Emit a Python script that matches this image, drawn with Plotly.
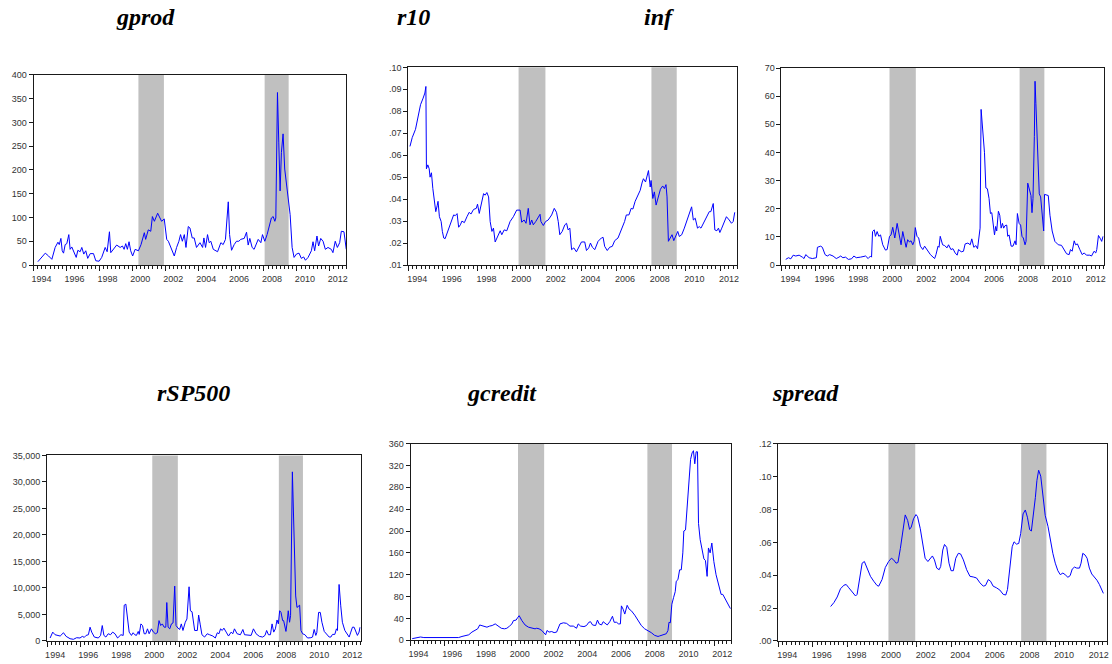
import plotly.graph_objects as go

# ---------------- data (fractional years) ----------------
gprod_t = [1994.26,1994.71,1994.91,1995.11,1995.31,1995.48,1995.56,1995.66,1995.74,1995.82,1995.92,
           1996.02,1996.14,1996.22,1996.32,1996.49,1996.59,1996.69,1996.83,1996.93,1997.05,1997.17,
           1997.29,1997.44,1997.64,1997.78,1997.98,1998.14,1998.35,1998.47,1998.61,1998.69,1998.85,
           1999.05,1999.26,1999.40,1999.50,1999.60,1999.70,1999.80,1999.90,2000.02,2000.17,2000.37,
           2000.53,2000.73,2000.81,2000.97,2001.12,2001.22,2001.34,2001.54,2001.68,2001.78,2001.94,
           2002.09,2002.19,2002.33,2002.55,2002.69,2002.83,2002.93,2003.04,2003.16,2003.26,2003.40,
           2003.50,2003.64,2003.76,2003.90,2004.11,2004.27,2004.35,2004.45,2004.57,2004.67,2004.77,
           2004.92,2005.18,2005.38,2005.52,2005.66,2005.83,2005.91,2006.03,2006.19,2006.33,2006.47,
           2006.59,2006.80,2006.94,2007.04,2007.14,2007.28,2007.40,2007.65,2007.81,2007.91,2008.05,
           2008.19,2008.31,2008.45,2008.56,2008.66,2008.72,2008.82,2008.90,2008.98,2009.06,2009.16,
           2009.26,2009.36,2009.50,2009.59,2009.71,2009.83,2009.97,2010.13,2010.27,2010.41,2010.52,
           2010.68,2010.88,2010.98,2011.08,2011.22,2011.32,2011.45,2011.59,2011.73,2011.89,2012.09,
           2012.19,2012.33,2012.46,2012.60,2012.70,2012.86,2013.00]
gprod_v = [7,25,19,12,37,48,43,56,30,25,43,45,64,33,38,26,16,31,28,37,23,30,14,24,24,9,8,16,37,28,70,
           26,33,42,37,40,33,45,33,49,30,19,33,30,43,68,54,74,71,102,92,109,99,92,97,54,50,37,19,37,
           50,64,50,64,37,81,78,57,57,37,47,37,57,37,64,47,50,33,28,47,43,54,133,64,31,43,50,50,54,56,
           69,42,56,37,33,54,47,64,50,64,78,99,102,92,99,363,257,156,237,276,202,174,140,106,37,16,23,
           25,14,17,10,16,30,49,30,61,40,56,50,33,37,33,26,50,37,47,71,70,33]

r10_t = [1994.10,1994.23,1994.42,1994.56,1994.71,1994.86,1994.96,1995.02,1995.05,1995.13,1995.21,
         1995.26,1995.34,1995.42,1995.51,1995.59,1995.67,1995.72,1995.80,1995.90,1995.97,1996.05,
         1996.13,1996.28,1996.47,1996.62,1996.72,1996.82,1996.91,1997.01,1997.10,1997.24,1997.39,
         1997.52,1997.62,1997.77,1997.93,1998.00,1998.10,1998.21,1998.35,1998.44,1998.54,1998.64,
         1998.73,1998.83,1998.92,1999.02,1999.17,1999.31,1999.40,1999.54,1999.69,1999.88,2000.07,
         2000.26,2000.46,2000.55,2000.69,2000.80,2000.93,2001.03,2001.13,2001.22,2001.36,2001.47,
         2001.61,2001.66,2001.80,2001.93,2002.08,2002.28,2002.43,2002.56,2002.66,2002.75,2002.89,
         2003.04,2003.14,2003.23,2003.33,2003.43,2003.56,2003.71,2003.85,2004.00,2004.19,2004.29,
         2004.42,2004.52,2004.63,2004.77,2004.96,2005.15,2005.25,2005.34,2005.49,2005.63,2005.78,
         2005.92,2006.11,2006.30,2006.49,2006.59,2006.74,2006.87,2006.97,2007.10,2007.26,2007.39,
         2007.51,2007.58,2007.70,2007.77,2007.87,2007.97,2008.02,2008.12,2008.21,2008.31,2008.44,
         2008.56,2008.69,2008.79,2008.88,2008.94,2009.02,2009.13,2009.23,2009.33,2009.46,2009.56,
         2009.65,2009.79,2009.94,2010.13,2010.26,2010.36,2010.46,2010.57,2010.70,2010.80,2010.90,
         2011.09,2011.22,2011.38,2011.47,2011.53,2011.61,2011.70,2011.82,2011.91,2011.99,2012.10,
         2012.24,2012.37,2012.53,2012.66,2012.76,2012.85]
r10_v = [0.0640,0.0680,0.0718,0.0778,0.0830,0.0860,0.0883,0.0913,0.0538,0.0556,0.0538,0.0500,0.0520,
         0.0448,0.0388,0.0343,0.0370,0.0390,0.0320,0.0298,0.0253,0.0223,0.0220,0.0253,0.0290,0.0328,
         0.0325,0.0334,0.0272,0.0283,0.0300,0.0293,0.0320,0.0340,0.0332,0.0353,0.0358,0.0377,0.0335,
         0.0380,0.0425,0.0418,0.0430,0.0410,0.0298,0.0253,0.0268,0.0205,0.0230,0.0256,0.0238,0.0260,
         0.0256,0.0298,0.0320,0.0350,0.0350,0.0295,0.0305,0.0290,0.0358,0.0283,0.0305,0.0283,0.0298,
         0.0313,0.0331,0.0298,0.0280,0.0298,0.0305,0.0328,0.0358,0.0340,0.0298,0.0238,0.0253,0.0283,
         0.0290,0.0260,0.0268,0.0170,0.0178,0.0160,0.0185,0.0205,0.0205,0.0166,0.0178,0.0200,0.0181,
         0.0170,0.0208,0.0223,0.0226,0.0185,0.0166,0.0181,0.0185,0.0211,0.0223,0.0260,0.0298,0.0328,
         0.0328,0.0358,0.0355,0.0390,0.0418,0.0440,0.0478,0.0493,0.0478,0.0505,0.0530,0.0455,0.0485,
         0.0403,0.0433,0.0373,0.0410,0.0445,0.0460,0.0448,0.0466,0.0410,0.0208,0.0223,0.0238,0.0211,
         0.0238,0.0253,0.0230,0.0238,0.0268,0.0313,0.0343,0.0365,0.0305,0.0313,0.0268,0.0275,0.0268,
         0.0298,0.0320,0.0343,0.0343,0.0360,0.0380,0.0260,0.0256,0.0268,0.0248,0.0268,0.0298,0.0320,
         0.0305,0.0290,0.0298,0.0340]

inf_t = [1994.25,1994.41,1994.55,1994.69,1994.84,1995.04,1995.23,1995.33,1995.43,1995.63,1995.82,
         1996.06,1996.12,1996.31,1996.41,1996.57,1996.70,1996.84,1997.04,1997.23,1997.39,1997.49,
         1997.62,1997.78,1997.94,1998.13,1998.27,1998.41,1998.66,1998.96,1999.11,1999.25,1999.31,
         1999.37,1999.47,1999.54,1999.64,1999.74,1999.84,1999.97,2000.13,2000.23,2000.37,2000.46,
         2000.56,2000.68,2000.82,2000.95,2001.05,2001.15,2001.25,2001.35,2001.44,2001.54,2001.64,
         2001.74,2001.82,2001.89,2001.99,2002.09,2002.19,2002.33,2002.44,2002.58,2002.78,2003.03,
         2003.11,2003.23,2003.29,2003.36,2003.50,2003.62,2003.76,2003.85,2003.99,2004.11,2004.24,
         2004.36,2004.44,2004.60,2004.73,2004.83,2004.99,2005.13,2005.22,2005.34,2005.46,2005.56,
         2005.66,2005.71,2005.77,2005.87,2005.97,2006.05,2006.14,2006.24,2006.32,2006.40,2006.50,
         2006.56,2006.63,2006.69,2006.79,2006.87,2006.95,2007.03,2007.10,2007.18,2007.28,2007.34,
         2007.42,2007.54,2007.65,2007.77,2007.83,2007.91,2008.01,2008.10,2008.18,2008.26,2008.36,
         2008.42,2008.52,2008.61,2008.71,2008.77,2008.83,2008.91,2008.95,2009.00,2009.10,2009.20,
         2009.28,2009.38,2009.46,2009.51,2009.63,2009.73,2009.83,2009.96,2010.12,2010.32,2010.51,
         2010.67,2010.81,2010.96,2011.04,2011.14,2011.26,2011.34,2011.45,2011.59,2011.73,2011.85,
         2011.98,2012.18,2012.28,2012.43,2012.53,2012.59,2012.69,2012.81,2012.88,2012.96]
inf_v = [2.0,2.6,2.2,3.5,3.2,3.5,2.8,2.3,3.7,2.6,2.3,2.6,6.3,6.7,6.3,3.7,3.2,3.7,3.2,2.3,2.8,3.2,2.6,
         2.8,2.0,2.2,3.2,2.6,2.8,3.2,2.3,3.2,2.8,11.9,12.5,10.2,11.9,10.2,10.7,7.2,5.3,5.5,10.2,10.7,
         13.4,9.6,14.8,10.7,7.2,11.9,8.4,6.3,9.0,8.2,8.6,7.2,8.4,13.3,10.2,9.6,6.7,5.5,6.7,5.5,3.7,
         2.3,3.7,6.7,6.3,10.2,7.2,6.9,6.1,7.2,5.5,5.8,4.3,3.5,5.5,4.7,4.9,7.5,7.8,7.2,9.3,6.3,6.9,5.8,
         11.9,13.1,55.3,46.9,39.9,27.4,27.1,23.6,18.3,18.6,13.1,10.7,13.7,12.1,19.1,17.7,13.1,14.8,
         13.1,14.0,14.2,10.2,10.7,6.7,6.7,8.6,7.2,18.3,14.8,14.2,10.2,9.6,7.2,8.4,29.1,27.1,24.7,18.6,
         23.6,45.7,65.3,57.4,43.4,25.3,24.2,16.6,12.1,25.1,25.0,24.7,17.7,12.1,8.4,7.2,7.0,5.5,4.0,
         3.7,5.5,4.9,8.6,7.2,7.5,5.5,3.7,4.3,3.5,3.5,3.2,4.9,4.3,5.5,10.5,9.3,8.4,10.2]

rsp_t = [1994.18,1994.34,1994.48,1994.64,1994.79,1994.99,1995.15,1995.39,1995.59,1995.79,1995.99,
         1996.13,1996.25,1996.36,1996.50,1996.60,1996.70,1996.86,1997.10,1997.24,1997.34,1997.44,
         1997.56,1997.70,1997.84,1997.97,1998.11,1998.27,1998.47,1998.61,1998.67,1998.77,1998.87,
         1998.97,1999.11,1999.21,1999.31,1999.41,1999.52,1999.58,1999.68,1999.78,1999.88,1999.98,
         2000.08,2000.18,2000.32,2000.44,2000.56,2000.68,2000.78,2000.88,2000.98,2001.09,2001.19,
         2001.25,2001.33,2001.43,2001.53,2001.63,2001.73,2001.81,2001.93,2002.03,2002.13,2002.23,
         2002.37,2002.47,2002.60,2002.68,2002.78,2002.94,2003.10,2003.18,2003.28,2003.38,2003.54,
         2003.70,2003.84,2004.04,2004.19,2004.31,2004.41,2004.51,2004.61,2004.71,2004.85,2004.99,
         2005.15,2005.25,2005.35,2005.51,2005.71,2005.86,2005.96,2006.16,2006.36,2006.50,2006.66,
         2006.86,2007.06,2007.20,2007.30,2007.41,2007.53,2007.63,2007.73,2007.83,2007.93,2008.01,
         2008.09,2008.17,2008.27,2008.33,2008.41,2008.47,2008.53,2008.61,2008.69,2008.75,2008.86,
         2008.96,2009.06,2009.14,2009.22,2009.30,2009.38,2009.48,2009.62,2009.78,2009.98,2010.08,
         2010.18,2010.28,2010.34,2010.45,2010.55,2010.65,2010.79,2010.95,2011.09,2011.19,2011.29,
         2011.43,2011.53,2011.59,2011.69,2011.79,2011.89,2012.04,2012.20,2012.30,2012.40,2012.50,
         2012.60,2012.70,2012.80,2012.90,2012.96]
rsp_v = [560,1670,1180,1050,930,1550,870,430,310,620,560,870,680,1050,1180,2600,1670,740,560,1050,
         2910,1050,740,1360,1180,1670,1360,560,1180,1050,6750,6940,3530,1670,1050,1550,1180,1050,1800,
         1240,3220,2910,1360,1360,2290,1360,2290,1670,1360,1550,3840,2910,3220,2600,2600,7250,2600,
         2290,3220,3410,10350,2910,2420,2170,3220,1980,3530,4150,10220,5700,5510,1980,1980,4890,3040,
         1180,740,1360,1180,930,560,1550,1360,2290,1980,2420,1670,930,1670,1360,2290,1360,1180,2170,
         1180,1050,1050,2290,1360,870,740,1050,1980,1180,1180,3220,1670,2290,3960,3220,5700,5390,3840,
         3840,2290,1800,3220,5700,3530,4770,31900,20260,8490,6320,6630,6750,1980,1360,1180,560,620,
         740,2170,1050,1550,5390,5390,3530,1800,1180,740,740,1240,1240,2290,1980,10660,6630,3530,1980,
         1050,740,1670,2600,2600,1670,1050,1670,2600]

gcredit_t = [1994.10,1994.39,1994.59,1994.79,1994.98,1995.18,1995.58,1995.87,1996.17,1996.46,1996.66,
             1996.85,1997.05,1997.25,1997.45,1997.64,1997.84,1997.98,1998.10,1998.23,1998.39,1998.53,
             1998.69,1998.84,1999.02,1999.18,1999.38,1999.57,1999.71,1999.87,2000.01,2000.10,2000.26,
             2000.36,2000.44,2000.60,2000.79,2000.99,2001.19,2001.38,2001.48,2001.62,2001.78,2001.91,
             2002.01,2002.09,2002.21,2002.37,2002.51,2002.66,2002.76,2002.86,2003.06,2003.25,2003.45,
             2003.65,2003.84,2003.94,2004.08,2004.28,2004.43,2004.57,2004.67,2004.79,2004.97,2005.08,
             2005.18,2005.32,2005.42,2005.54,2005.66,2005.81,2005.97,2006.07,2006.21,2006.33,2006.44,
             2006.50,2006.60,2006.70,2006.84,2006.96,2007.09,2007.29,2007.49,2007.68,2007.88,2008.08,
             2008.27,2008.47,2008.67,2008.77,2008.92,2009.06,2009.16,2009.26,2009.32,2009.40,2009.49,
             2009.59,2009.69,2009.75,2009.85,2009.95,2010.05,2010.14,2010.20,2010.30,2010.40,2010.48,
             2010.54,2010.60,2010.69,2010.77,2010.85,2010.93,2011.01,2011.07,2011.17,2011.27,2011.39,
             2011.48,2011.58,2011.66,2011.76,2011.86,2011.98,2012.11,2012.27,2012.41,2012.51,2012.67,
             2012.80,2012.96]
gcredit_v = [3,4,6,5,5,5,5,5,5,4,4,5,7,9,10,15,18,21,28,27,26,24,26,27,30,26,22,21,22,26,30,36,37,
             42,45,36,28,24,22,21,22,21,18,14,10,18,15,16,14,15,22,30,32,31,26,26,22,30,26,25,27,33,
             34,28,27,37,30,28,34,30,28,34,44,33,33,30,30,63,57,48,64,57,54,46,36,27,21,18,14,9,7,8,10,
             12,12,18,33,32,66,78,89,108,111,129,129,160,200,202,244,280,298,331,343,347,323,345,345,
             214,184,166,149,146,117,169,160,178,144,120,102,84,84,75,67,58]

spread_t = [1997.03,1997.22,1997.41,1997.60,1997.80,1997.93,1998.08,1998.28,1998.47,1998.56,1998.70,
            1998.85,1998.98,1999.14,1999.33,1999.52,1999.71,1999.81,2000.00,2000.19,2000.38,2000.54,
            2000.67,2000.81,2000.92,2001.06,2001.19,2001.34,2001.48,2001.59,2001.69,2001.82,2001.96,
            2002.05,2002.21,2002.36,2002.49,2002.65,2002.78,2002.91,2003.03,2003.16,2003.30,2003.39,
            2003.51,2003.61,2003.74,2003.87,2003.99,2004.12,2004.26,2004.41,2004.54,2004.70,2004.89,
            2005.08,2005.27,2005.46,2005.66,2005.85,2005.98,2006.14,2006.27,2006.42,2006.61,2006.81,
            2007.00,2007.15,2007.25,2007.38,2007.52,2007.63,2007.77,2007.90,2008.01,2008.15,2008.28,
            2008.40,2008.53,2008.63,2008.72,2008.86,2008.95,2009.05,2009.17,2009.30,2009.43,2009.59,
            2009.74,2009.87,2010.01,2010.16,2010.30,2010.45,2010.58,2010.74,2010.87,2010.99,2011.12,
            2011.25,2011.41,2011.50,2011.60,2011.73,2011.85,2011.98,2012.12,2012.27,2012.42,2012.56,
            2012.69,2012.79]
spread_v = [0.0210,0.0234,0.0268,0.0318,0.0340,0.0344,0.0324,0.0298,0.0274,0.0284,0.0364,0.0474,
            0.0484,0.0444,0.0394,0.0364,0.0338,0.0334,0.0374,0.0448,0.0484,0.0504,0.0494,0.0474,
            0.0478,0.0564,0.0674,0.0768,0.0734,0.0680,0.0694,0.0744,0.0770,0.0758,0.0684,0.0574,
            0.0504,0.0484,0.0498,0.0518,0.0494,0.0444,0.0434,0.0454,0.0554,0.0588,0.0570,0.0474,
            0.0428,0.0428,0.0504,0.0534,0.0530,0.0494,0.0434,0.0394,0.0390,0.0384,0.0354,0.0334,
            0.0338,0.0374,0.0364,0.0334,0.0324,0.0310,0.0284,0.0280,0.0314,0.0434,0.0574,0.0604,
            0.0590,0.0594,0.0654,0.0774,0.0798,0.0754,0.0678,0.0670,0.0744,0.0874,0.0978,0.1040,
            0.1004,0.0884,0.0764,0.0698,0.0604,0.0534,0.0474,0.0428,0.0404,0.0414,0.0404,0.0388,
            0.0398,0.0438,0.0450,0.0444,0.0444,0.0474,0.0534,0.0524,0.0504,0.0444,0.0408,0.0390,
            0.0370,0.0344,0.0310,0.0290]

# shaded periods (start, end) in fractional years
shade_periods = [(2000.37, 2001.92), (2008.04, 2009.50)]

titles = ["gprod", "r10", "inf", "rSP500", "gcredit", "spread"]
year_ticks = [1994, 1996, 1998, 2000, 2002, 2004, 2006, 2008, 2010, 2012]
year_labels = [str(y) for y in year_ticks]

gprod_yt = [0, 50, 100, 150, 200, 250, 300, 350, 400]
gprod_yl = ["0", "50", "100", "150", "200", "250", "300", "350", "400"]
r10_yt = [0.01, 0.02, 0.03, 0.04, 0.05, 0.06, 0.07, 0.08, 0.09, 0.10]
r10_yl = [".01", ".02", ".03", ".04", ".05", ".06", ".07", ".08", ".09", ".10"]
inf_yt = [0, 10, 20, 30, 40, 50, 60, 70]
inf_yl = ["0", "10", "20", "30", "40", "50", "60", "70"]
rsp_yt = [0, 5000, 10000, 15000, 20000, 25000, 30000, 35000]
rsp_yl = ["0", "5,000", "10,000", "15,000", "20,000", "25,000", "30,000", "35,000"]
gcredit_yt = [0, 40, 80, 120, 160, 200, 240, 280, 320, 360]
gcredit_yl = ["0", "40", "80", "120", "160", "200", "240", "280", "320", "360"]
spread_yt = [0.00, 0.02, 0.04, 0.06, 0.08, 0.10, 0.12]
spread_yl = [".00", ".02", ".04", ".06", ".08", ".10", ".12"]

# ---------------- layout geometry (pixels in the 1112x664 page) ----------------
W, H = 1112, 664
panels = [
    (gprod_t, gprod_v, gprod_yt, gprod_yl, [0, 400], (31.7, 345.5, 71.0, 264.0), (144, 12)),
    (r10_t, r10_v, r10_yt, r10_yl, [0.01, 0.10], (407.7, 738.0, 63.3, 264.0), (413, 12)),
    (inf_t, inf_v, inf_yt, inf_yl, [0, 70], (782.3, 1105.7, 64.0, 264.0), (659, 12)),
    (rsp_t, rsp_v, rsp_yt, rsp_yl, [0, 35000], (45.3, 360.0, 457.3, 645.7), (192, 394)),
    (gcredit_t, gcredit_v, gcredit_yt, gcredit_yl, [0, 360], (410.0, 731.7, 445.3, 645.0), (502, 394)),
    (spread_t, spread_v, spread_yt, spread_yl, [0, 0.12], (779.0, 1109.0, 445.7, 645.7), (806, 394)),
]

fig = go.Figure()
tick_font = dict(family="Liberation Sans, Arial, sans-serif", size=9, color="#333333")
frame = "#1a1a1a"

for i, (t, v, yt, yl, yr, box, tpos) in enumerate(panels, start=1):
    x0, x1, y0, y1 = box
    xa = "x" if i == 1 else f"x{i}"
    ya = "y" if i == 1 else f"y{i}"
    fig.add_trace(go.Scatter(x=t, y=v, mode="lines", xaxis=xa, yaxis=ya,
                             line=dict(color="#0000ff", width=1), showlegend=False,
                             hoverinfo="skip"))
    px_per_year = (x1 - x0) / 19.0
    fig.update_layout(**{
        ("xaxis" if i == 1 else f"xaxis{i}"): dict(
            domain=[x0 / W, x1 / W], anchor=ya, range=[1994, 2013],
            tickmode="array", tickvals=year_ticks, ticktext=year_labels,
            ticklabelshift=int(round(px_per_year / 2)), ticks="outside", ticklen=5, tickwidth=1,
            tickcolor=frame, tickfont=tick_font,
            minor=dict(tickmode="linear", tick0=1994, dtick=0.25, ticks="outside",
                       ticklen=3, tickwidth=1, tickcolor=frame, showgrid=False),
            showline=True, mirror=True, linecolor=frame, linewidth=1,
            showgrid=False, zeroline=False, fixedrange=True),
        ("yaxis" if i == 1 else f"yaxis{i}"): dict(
            domain=[1 - y1 / H, 1 - y0 / H], anchor=xa, range=yr,
            tickmode="array", tickvals=yt, ticktext=yl, ticks="outside", ticklen=4,
            tickwidth=1, tickcolor=frame, tickfont=tick_font,
            showline=True, mirror=True, linecolor=frame, linewidth=1,
            showgrid=False, zeroline=False, fixedrange=True),
    })
    for (s, e) in shade_periods:
        fig.add_shape(type="rect", xref=xa, yref=f"{ya} domain", x0=s, x1=e, y0=0, y1=1,
                      fillcolor="#c0c0c0", line=dict(width=0), layer="below")
    fig.add_annotation(text=f"<b><i>{titles[i-1]}</i></b>", xref="paper", yref="paper",
                       x=tpos[0] / W, y=1 - tpos[1] / H, showarrow=False,
                       xanchor="center", yanchor="middle",
                       font=dict(family="Liberation Serif, Times New Roman, serif", size=24,
                                 color="#000000"))

fig.update_layout(autosize=True, margin=dict(l=0, r=0, t=0, b=0),
                  paper_bgcolor="white", plot_bgcolor="white")

fig.write_html("out.html", config={"displayModeBar": False, "responsive": True},
               default_width="100vw", default_height="100vh",
               post_script="document.documentElement.style.margin='0';"
                           "document.body.style.margin='0';document.body.style.padding='0';"
                           "document.body.style.overflow='hidden';"
                           "var d=document.getElementById('{plot_id}');"
                           "if(d&&d.parentElement){d.parentElement.style.margin='0';}"
                           "window.dispatchEvent(new Event('resize'));")
